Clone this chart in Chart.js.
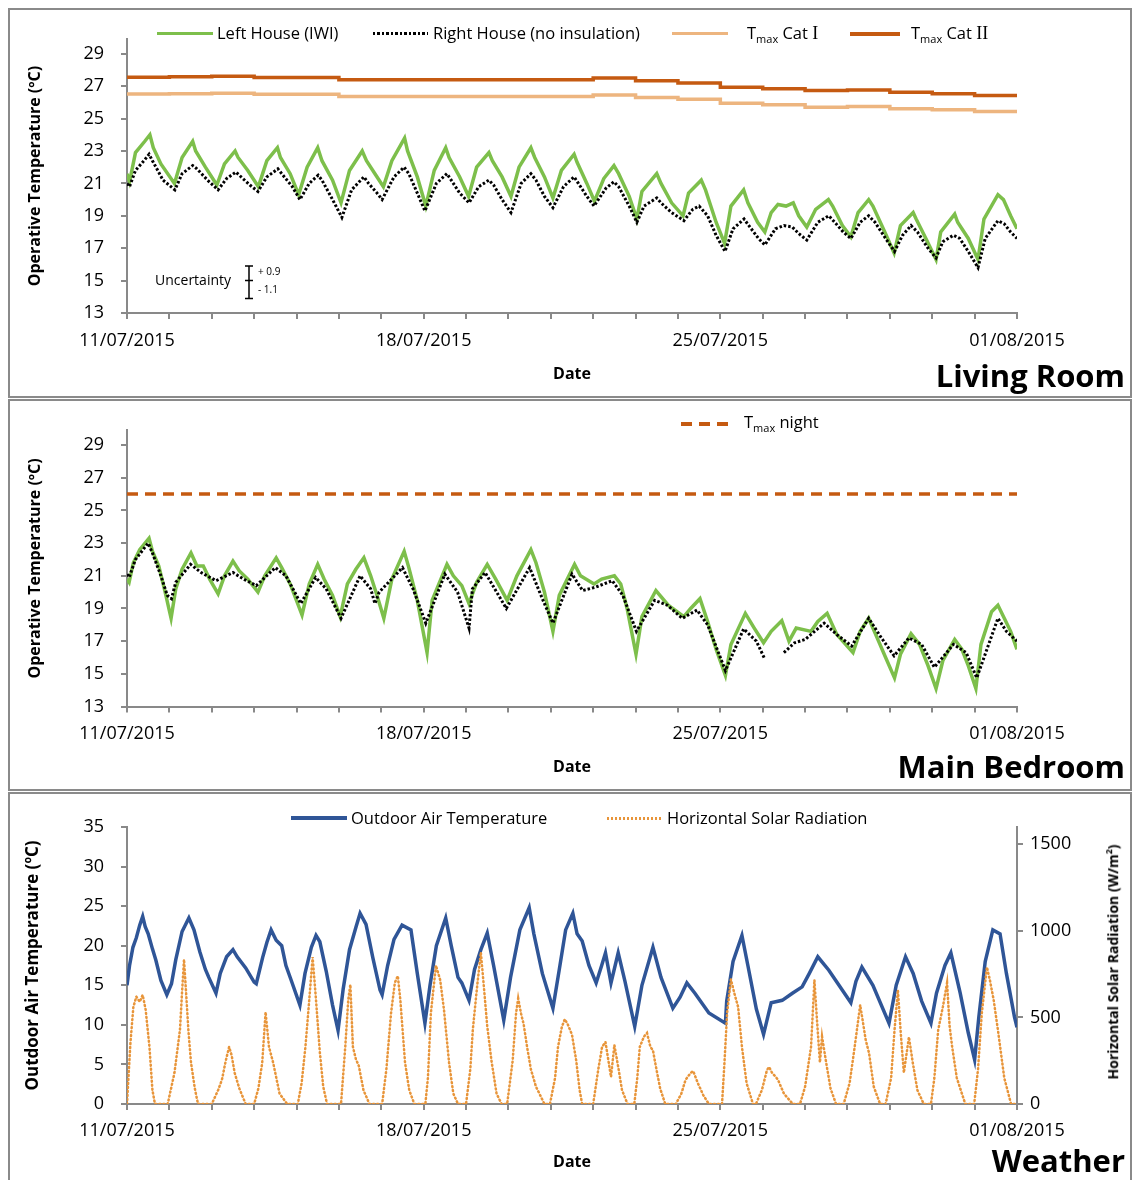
<!DOCTYPE html>
<html>
<head>
<meta charset="utf-8">
<script src="https://cdn.jsdelivr.net/npm/chart.js@4.4.1/dist/chart.umd.min.js"></script>
<style>
  body { margin: 0; background: #fff; width: 1132px; height: 1180px; overflow: hidden; position: relative; font-family: 'Open Sans', sans-serif; color: #000; }
  .panel { position: absolute; left: 8px; width: 1120px; border: 2px solid #8a8a8a; overflow: hidden; }
  .panel canvas { position: absolute; left: 0; top: 0; }
  .lg { position: absolute; font-size: 16.5px; line-height: 20px; height: 20px; white-space: nowrap; }
  .lg sub { font-size: 11px; vertical-align: -4px; }
  .rn { font-family: 'Liberation Serif', serif; font-size: 18px; }
  .sw { position: absolute; }
  .big { position: absolute; right: 7px; font-weight: bold; font-size: 31px; line-height: 40px; }
  .rt { position: absolute; font-weight: bold; font-size: 14px; white-space: nowrap; transform: translate(-50%, -50%) rotate(-90deg); }
</style>
</head>
<body>
<div class="panel" style="top:8px;height:386px"><canvas id="living" width="1120" height="386"></canvas></div>
<div class="panel" style="top:399px;height:388px"><canvas id="bedroom" width="1120" height="388"></canvas></div>
<div class="panel" style="top:792px;height:400px"><canvas id="weather" width="1120" height="386"></canvas></div>

<!-- legends -->
<div class="sw" style="left:157px;top:32px;width:56px;height:3px;background:#7DBF4B"></div>
<div class="lg" style="left:217px;top:23px">Left House (IWI)</div>
<div class="sw" style="left:373px;top:32px;width:55px;height:3px;background:repeating-linear-gradient(90deg,#000 0 2.5px,transparent 2.5px 4.5px)"></div>
<div class="lg" style="left:433px;top:23px">Right House (no insulation)</div>
<div class="sw" style="left:672px;top:32px;width:56px;height:3px;background:#EDB57F"></div>
<div class="lg" style="left:747px;top:23px">T<sub>max</sub> Cat <span class="rn">I</span></div>
<div class="sw" style="left:850px;top:32px;width:50px;height:3.5px;background:#C55A11"></div>
<div class="lg" style="left:911px;top:23px">T<sub>max</sub> Cat <span class="rn">II</span></div>

<div class="sw" style="left:681px;top:422px;width:47px;height:3.5px;background:repeating-linear-gradient(90deg,#C55A11 0 11px,transparent 11px 18px)"></div>
<div class="lg" style="left:744px;top:412px">T<sub>max</sub> night</div>

<div class="sw" style="left:291px;top:816px;width:56px;height:3.5px;background:#2F5597"></div>
<div class="lg" style="left:351px;top:808px">Outdoor Air Temperature</div>
<div class="sw" style="left:607px;top:817px;width:54px;height:2.5px;background:repeating-linear-gradient(90deg,#E8953A 0 2px,transparent 2px 4px)"></div>
<div class="lg" style="left:667px;top:808px">Horizontal Solar Radiation</div>

<div class="rt" style="left:1112px;top:962px">Horizontal Solar Radiation (W/m<sup style="font-size:9px">2</sup>)</div>

<div class="big" style="top:355px">Living Room</div>
<div class="big" style="top:746px">Main Bedroom</div>
<div class="big" style="top:1140px">Weather</div>

<script>
// x values are days since 11/07/2015 00:00
const xTickDays = [0, 1, 2, 3, 4, 5, 6, 7, 8, 9, 10, 11, 12, 13, 14, 15, 16, 17, 18, 19, 20, 21];
const xLabelDays = [0, 7, 14, 21];
const xLabels = ['11/07/2015', '18/07/2015', '25/07/2015', '01/08/2015'];
const roomTicks = [13, 15, 17, 19, 21, 23, 25, 27, 29];
const airTicks = [0, 5, 10, 15, 20, 25, 30, 35];
const solarTicks = [0, 500, 1000, 1500];

// Living room (ºC)
const livingLeft = [[0,21.6],[0.06,21.1],[0.2,22.9],[0.42,23.6],[0.54,24.0],[0.62,23.2],[0.8,22.2],[1.12,21.0],
  [1.3,22.6],[1.55,23.6],[1.62,23.0],[1.85,22.0],[2.12,20.9],
  [2.3,22.2],[2.55,23.0],[2.62,22.6],[2.85,21.8],[3.1,20.8],
  [3.3,22.4],[3.55,23.2],[3.62,22.6],[3.85,21.6],[4.05,20.3],
  [4.25,22.0],[4.5,23.2],[4.6,22.4],[4.85,21.2],[5.05,19.8],
  [5.25,21.8],[5.55,23.0],[5.65,22.4],[5.85,21.6],[6.05,20.8],
  [6.25,22.4],[6.55,23.8],[6.62,23.0],[6.85,21.4],[7.05,19.6],
  [7.25,21.8],[7.52,23.2],[7.6,22.6],[7.85,21.4],[8.06,20.2],
  [8.25,22.0],[8.54,22.9],[8.62,22.4],[8.85,21.4],[9.06,20.2],
  [9.25,22.0],[9.53,23.2],[9.62,22.6],[9.85,21.4],[10.05,20.1],
  [10.25,21.8],[10.55,22.8],[10.62,22.3],[10.85,21.0],[11.03,19.9],
  [11.25,21.3],[11.49,22.1],[11.6,21.6],[11.85,20.2],[12.03,18.8],
  [12.15,20.5],[12.5,21.6],[12.6,21.0],[12.85,19.8],[13.12,19.0],
  [13.25,20.4],[13.55,21.2],[13.65,20.6],[13.9,18.6],[14.1,17.3],
  [14.25,19.6],[14.55,20.6],[14.65,19.8],[14.88,18.6],[15.05,18.0],
  [15.2,19.2],[15.36,19.7],[15.55,19.6],[15.72,19.8],[15.85,19.0],[16.04,18.3],
  [16.25,19.4],[16.55,20.0],[16.65,19.6],[16.88,18.4],[17.08,17.7],
  [17.25,19.2],[17.5,20.0],[17.6,19.6],[17.88,18.0],[18.1,16.7],
  [18.25,18.4],[18.55,19.2],[18.62,18.8],[18.85,17.6],[19.09,16.3],
  [19.2,18.0],[19.53,19.1],[19.6,18.6],[19.85,17.6],[20.08,16.3],
  [20.22,18.8],[20.55,20.3],[20.68,20.0],[20.85,19.0],[21,18.2]];
const livingRight = [[0,21.0],[0.06,20.8],[0.2,21.8],[0.4,22.4],[0.52,22.8],[0.6,22.4],[0.85,21.2],[1.13,20.6],
  [1.3,21.6],[1.55,22.1],[1.65,21.9],[1.9,21.2],[2.15,20.6],
  [2.35,21.3],[2.57,21.7],[2.65,21.5],[2.9,20.9],[3.09,20.5],
  [3.3,21.4],[3.56,21.9],[3.65,21.6],[3.9,20.8],[4.08,20.0],
  [4.3,21.0],[4.51,21.5],[4.6,21.2],[4.85,20.0],[5.07,18.9],
  [5.3,20.6],[5.59,21.4],[5.7,21.0],[5.9,20.4],[6.02,20.0],
  [6.3,21.4],[6.54,22.0],[6.65,21.6],[6.85,20.4],[7.03,19.3],
  [7.3,21.0],[7.55,21.6],[7.65,21.2],[7.85,20.4],[8.07,19.8],
  [8.3,20.8],[8.54,21.2],[8.65,20.9],[8.85,20.0],[9.06,19.2],
  [9.3,21.0],[9.53,21.6],[9.65,21.2],[9.85,20.2],[10.05,19.5],
  [10.3,20.8],[10.55,21.4],[10.65,21.0],[10.85,20.2],[11.02,19.6],
  [11.3,20.7],[11.49,21.1],[11.6,20.8],[11.85,19.6],[12.03,18.6],
  [12.2,19.6],[12.5,20.1],[12.6,19.8],[12.85,19.2],[13.14,18.7],
  [13.35,19.4],[13.5,19.6],[13.7,19.0],[13.9,17.8],[14.11,16.8],
  [14.3,18.2],[14.56,18.8],[14.7,18.3],[14.9,17.6],[15.05,17.2],
  [15.3,18.2],[15.5,18.4],[15.7,18.3],[15.85,17.9],[16.04,17.5],
  [16.3,18.6],[16.56,19.0],[16.7,18.6],[16.9,18.0],[17.08,17.6],
  [17.3,18.6],[17.5,19.0],[17.65,18.6],[17.9,17.6],[18.11,16.8],
  [18.3,17.8],[18.5,18.4],[18.65,18.0],[18.9,17.0],[19.09,16.4],
  [19.25,17.4],[19.5,17.8],[19.65,17.6],[19.85,16.8],[20.08,15.8],
  [20.25,17.6],[20.55,18.7],[20.7,18.5],[20.85,18.0],[21,17.6]];
const tmaxCatI = [[0,26.51],[1,26.54],[2,26.57],[3,26.5],[4,26.5],[5,26.36],[6,26.36],[7,26.36],[8,26.36],[9,26.36],[10,26.36],
  [11,26.46],[12,26.3],[13,26.2],[14,25.95],[15,25.85],[16,25.7],[17,25.74],[18,25.6],[19,25.54],[20,25.43],[21,25.43]];
const tmaxCatII = [[0,27.55],[1,27.58],[2,27.62],[3,27.53],[4,27.53],[5,27.39],[6,27.39],[7,27.39],[8,27.39],[9,27.39],[10,27.39],
  [11,27.51],[12,27.33],[13,27.19],[14,26.94],[15,26.84],[16,26.73],[17,26.77],[18,26.63],[19,26.53],[20,26.42],[21,26.42]];

// Main bedroom (ºC)
const bedroomLeft = [[0,20.8],[0.05,20.6],[0.15,21.8],[0.3,22.6],[0.52,23.3],[0.6,22.5],[0.75,21.6],[0.9,20.0],[1.04,18.4],
  [1.15,20.2],[1.3,21.4],[1.51,22.4],[1.65,21.6],[1.8,21.6],[1.95,20.8],[2.15,19.9],
  [2.3,21.0],[2.5,21.9],[2.65,21.3],[2.85,20.8],[3.09,20.0],
  [3.25,21.0],[3.52,22.1],[3.65,21.5],[3.85,20.5],[4.13,18.6],
  [4.3,20.5],[4.5,21.7],[4.65,20.8],[4.85,19.8],[5.03,18.5],
  [5.2,20.5],[5.4,21.4],[5.59,22.1],[5.75,21.0],[5.9,19.8],[6.06,18.4],
  [6.25,20.8],[6.54,22.5],[6.65,21.5],[6.85,19.5],[7.08,16.3],
  [7.2,19.5],[7.55,21.7],[7.7,21.0],[7.9,20.4],[8.07,19.3],
  [8.25,20.6],[8.5,21.7],[8.7,20.8],[8.97,19.5],
  [9.2,21.0],[9.53,22.6],[9.65,21.8],[9.85,20.0],[10.05,17.6],
  [10.2,19.8],[10.56,21.7],[10.7,21.0],[11.02,20.5],
  [11.2,20.8],[11.5,21.0],[11.65,20.5],[11.8,19.0],[12.01,16.2],
  [12.15,18.5],[12.48,20.1],[12.77,19.2],[13.14,18.5],
  [13.3,19.0],[13.52,19.6],[13.7,18.2],[13.9,16.5],[14.12,14.9],
  [14.25,16.8],[14.59,18.7],[14.8,17.8],[15.02,16.9],
  [15.2,17.6],[15.45,18.25],[15.62,17.0],[15.79,17.8],[16.14,17.6],
  [16.3,18.2],[16.52,18.7],[16.75,17.4],[17.13,16.3],
  [17.3,17.6],[17.5,18.4],[17.7,17.2],[17.9,16.0],[18.11,14.75],
  [18.25,16.2],[18.5,17.45],[18.7,16.8],[18.9,15.5],[19.09,14.1],
  [19.25,15.8],[19.53,17.1],[19.7,16.5],[19.85,15.5],[20.03,14.1],
  [20.15,16.8],[20.4,18.8],[20.55,19.2],[20.7,18.4],[20.85,17.6],[21,16.5]];
const bedroomRight = [[0,21.1],[0.05,20.9],[0.2,22.0],[0.5,23.0],[0.6,22.4],[0.8,21.0],[0.95,19.8],[1.05,19.6],
  [1.15,20.6],[1.5,21.7],[1.75,21.2],[2.1,20.7],[2.5,21.2],[2.75,20.8],[3.05,20.4],[3.5,21.5],[3.75,21.0],
  [4.1,19.3],[4.45,20.9],[4.7,20.2],[5.05,18.4],[5.5,21.0],[5.75,20.2],[5.85,19.3],[5.95,20.0],
  [6.5,21.5],[6.75,20.2],[7.05,18.1],[7.5,21.1],[7.8,20.0],[8.07,17.8],[8.15,20.2],[8.45,21.2],
  [8.95,19.0],[9.5,21.5],[9.8,19.6],[10.05,18.1],[10.5,21.1],[10.75,20.1],[11.05,20.3],[11.45,20.7],
  [11.7,19.8],[12.02,17.6],[12.45,19.5],[12.75,19.2],[13.1,18.4],[13.45,18.9],[13.7,18.0],[14.12,15.2],
  [14.55,17.75],[14.85,17.0],[15.05,15.9],[15.25,null],[15.5,16.3],[15.75,16.9],[16.0,17.1],[16.45,18.1],
  [16.75,17.4],[17.1,16.7],[17.5,18.4],[17.8,17.2],[18.1,16.1],[18.45,17.2],[18.75,16.8],[19.05,15.4],
  [19.5,16.8],[19.8,16.3],[20.05,14.75],[20.55,18.4],[20.75,17.6],[21,17.0]];
const tmaxNight = [[0,26],[21,26]];

// Weather
const outdoorAir = [[0,15.0],[0.06,17.5],[0.14,19.8],[0.22,21.0],[0.3,22.6],[0.37,23.7],[0.43,22.4],[0.5,21.5],[0.6,19.6],[0.68,18.2],[0.8,15.6],[0.94,13.8],
  [1.05,15.2],[1.15,18.2],[1.3,21.8],[1.46,23.5],[1.58,22.0],[1.72,19.2],[1.85,17.0],[1.93,16.0],[2.1,14.0],
  [2.2,16.5],[2.35,18.6],[2.5,19.5],[2.6,18.6],[2.8,17.2],[3.0,15.4],[3.05,15.2],
  [3.2,18.5],[3.3,20.4],[3.4,22.0],[3.52,20.7],[3.65,20.0],[3.75,17.5],[3.87,15.7],[4.08,12.5],
  [4.2,16.5],[4.35,19.8],[4.46,21.3],[4.55,20.5],[4.7,16.8],[4.85,12.5],[4.98,9.3],
  [5.1,14.5],[5.25,19.5],[5.4,22.3],[5.5,24.1],[5.64,22.7],[5.8,18.5],[5.97,14.4],[6.02,13.8],
  [6.15,17.5],[6.3,20.8],[6.49,22.6],[6.7,22.0],[6.85,16.5],[7.03,10.2],
  [7.15,15.0],[7.3,20.0],[7.52,23.5],[7.65,20.0],[7.81,16.0],[7.9,15.3],[8.07,13.1],
  [8.2,17.0],[8.35,19.5],[8.5,21.6],[8.65,17.5],[8.89,10.6],
  [9.05,16.0],[9.27,22.0],[9.49,24.8],[9.6,21.5],[9.8,16.5],[10.05,12.1],
  [10.2,17.0],[10.35,22.0],[10.52,24.1],[10.62,21.5],[10.74,20.6],[10.9,17.5],[11.07,15.3],
  [11.2,17.5],[11.29,19.1],[11.42,15.3],[11.59,19.1],[11.75,15.5],[11.98,9.8],
  [12.15,15.0],[12.41,19.8],[12.6,16.0],[12.88,12.1],[13.05,13.5],[13.21,15.3],[13.4,14.0],[13.73,11.5],[14.12,10.2],
  [14.15,13.0],[14.3,18.0],[14.51,21.3],[14.65,17.5],[14.85,12.0],[15.02,8.8],
  [15.2,12.8],[15.46,13.1],[15.7,14.0],[15.93,14.8],[16.1,16.5],[16.3,18.6],[16.56,16.9],[16.8,15.0],[17.08,12.8],
  [17.2,15.5],[17.34,17.3],[17.6,15.0],[17.98,10.2],
  [18.15,15.0],[18.37,18.6],[18.55,16.5],[18.75,13.0],[18.97,10.2],
  [19.1,14.0],[19.3,17.5],[19.44,19.1],[19.66,14.0],[19.85,9.0],[20.0,5.6],
  [20.1,11.0],[20.25,18.0],[20.43,22.0],[20.6,21.5],[20.75,16.5],[20.94,11.0],[21,9.7]];
const solarRadiation = [[0,0],[0.08,350],[0.15,560],[0.22,620],[0.3,590],[0.37,630],[0.44,545],[0.53,330],[0.6,80],[0.66,0],
  [0.96,0],[1.12,180],[1.25,430],[1.3,650],[1.345,835],[1.4,620],[1.45,420],[1.51,240],[1.6,90],[1.675,0],
  [2.0,0],[2.15,80],[2.24,140],[2.33,250],[2.41,330],[2.47,280],[2.54,180],[2.65,90],[2.8,0],
  [3.0,0],[3.1,90],[3.19,237],[3.27,531],[3.35,330],[3.45,237],[3.6,60],[3.78,0],
  [4.03,0],[4.12,120],[4.21,330],[4.3,600],[4.38,849],[4.46,600],[4.55,300],[4.63,100],[4.72,0],
  [5.05,0],[5.15,330],[5.22,600],[5.27,690],[5.33,330],[5.4,260],[5.47,220],[5.58,80],[5.72,0],
  [6.02,0],[6.12,200],[6.23,525],[6.32,700],[6.39,740],[6.45,600],[6.56,240],[6.66,80],[6.78,0],
  [7.04,0],[7.1,150],[7.17,525],[7.29,800],[7.39,716],[7.48,543],[7.6,237],[7.7,60],[7.81,0],
  [8.0,0],[8.1,200],[8.16,430],[8.27,700],[8.35,875],[8.43,650],[8.5,450],[8.6,250],[8.72,60],[8.84,0],
  [8.97,0],[9.1,250],[9.18,525],[9.23,610],[9.3,520],[9.36,460],[9.44,330],[9.53,200],[9.65,100],[9.85,0],
  [9.98,0],[10.1,150],[10.17,330],[10.26,445],[10.33,490],[10.4,460],[10.5,400],[10.6,250],[10.68,80],[10.74,0],
  [11.0,0],[11.12,200],[11.21,330],[11.29,358],[11.42,156],[11.5,341],[11.6,200],[11.68,80],[11.81,0],
  [11.97,0],[12.04,150],[12.1,330],[12.2,390],[12.27,410],[12.35,330],[12.41,310],[12.48,216],[12.58,90],[12.7,0],
  [12.95,0],[13.08,60],[13.18,140],[13.3,180],[13.36,190],[13.47,120],[13.6,50],[13.73,0],
  [14.04,0],[14.1,250],[14.16,525],[14.25,720],[14.33,640],[14.42,560],[14.51,330],[14.62,120],[14.77,0],
  [14.84,0],[14.98,80],[15.1,196],[15.15,214],[15.22,180],[15.31,156],[15.36,140],[15.5,60],[15.71,0],
  [15.88,0],[16.0,100],[16.14,330],[16.22,716],[16.29,450],[16.35,240],[16.4,390],[16.49,250],[16.6,90],[16.73,0],
  [16.91,0],[17.05,120],[17.17,330],[17.3,572],[17.36,480],[17.43,370],[17.51,293],[17.62,100],[17.77,0],
  [17.9,0],[18.03,150],[18.11,427],[18.19,658],[18.26,400],[18.33,180],[18.45,387],[18.54,240],[18.65,80],[18.8,0],
  [18.97,0],[19.05,150],[19.14,427],[19.25,560],[19.35,700],[19.41,450],[19.47,330],[19.58,150],[19.78,0],
  [19.99,0],[20.08,200],[20.17,525],[20.29,790],[20.36,716],[20.45,600],[20.55,427],[20.7,150],[20.86,0],[21,0]];

// uncertainty bar drawn in the living room panel
const uncDay = 2.88, uncCentre = 15, uncPlus = 0.9, uncMinus = 1.1;

const GREEN = '#7DBF4B', CAT1 = '#EDB57F', CAT2 = '#C55A11', BLUE = '#2F5597', SOLAR = '#E8953A';
const AXIS_GREY = '#898989';

Chart.defaults.font.family = "'Open Sans', sans-serif";
Chart.defaults.color = '#000';

const pts = arr => arr.map(([x, y]) => ({ x, y }));

function line(data, color, width, dash, extra) {
  return Object.assign({
    data: pts(data), showLine: true, borderColor: color, backgroundColor: color,
    borderWidth: width, borderDash: dash || [], pointRadius: 0, tension: 0, spanGaps: false
  }, extra || {});
}

function dateAxis(height, labelPad, titlePad) {
  return {
    type: 'linear', position: 'bottom', min: 0, max: 21,
    afterBuildTicks: s => { s.ticks = xTickDays.map(v => ({ value: v })); },
    afterFit: s => { s.height = height; },
    ticks: {
      autoSkip: false, maxRotation: 0, padding: labelPad, font: { size: 18 },
      callback: v => { const i = xLabelDays.indexOf(v); return i < 0 ? '' : xLabels[i]; }
    },
    grid: { drawOnChartArea: false, tickLength: 6, color: AXIS_GREY, lineWidth: 2 },
    border: { color: AXIS_GREY, width: 2 },
    title: { display: true, text: 'Date', font: { size: 16, weight: 'bold' }, padding: { top: 0, bottom: titlePad } }
  };
}

function valueAxis(o) {
  return {
    type: 'linear', position: o.position || 'left', min: o.min, max: o.max,
    afterBuildTicks: s => { s.ticks = o.ticks.map(v => ({ value: v })); },
    afterFit: s => { s.width = o.width; },
    ticks: { padding: o.labelPad, font: { size: 18 }, callback: v => String(v) },
    grid: { drawOnChartArea: false, tickLength: 6, color: AXIS_GREY, lineWidth: 2 },
    border: { color: AXIS_GREY, width: 2 },
    title: o.title
      ? { display: true, text: o.title, font: { size: o.titleSize, weight: 'bold' }, padding: { top: o.titlePad, bottom: 0 } }
      : { display: false }
  };
}

function options(padTop, padRight, scales) {
  return {
    responsive: false, animation: false, events: [],
    layout: { padding: { top: padTop, right: padRight, left: 0, bottom: 0 } },
    plugins: { legend: { display: false }, tooltip: { enabled: false } },
    scales
  };
}

const uncertaintyMark = {
  id: 'uncertaintyMark',
  afterDatasetsDraw(chart) {
    const { ctx, scales: { x, y } } = chart;
    const px = Math.round(x.getPixelForValue(uncDay));
    const yMid = y.getPixelForValue(uncCentre);
    const yTop = y.getPixelForValue(uncCentre + uncPlus);
    const yBot = y.getPixelForValue(uncCentre - uncMinus);
    ctx.save();
    ctx.strokeStyle = '#000';
    ctx.lineWidth = 1.5;
    ctx.beginPath();
    ctx.moveTo(px, yTop); ctx.lineTo(px, yBot);
    ctx.moveTo(px - 4, yTop); ctx.lineTo(px + 4, yTop);
    ctx.moveTo(px - 4, yMid); ctx.lineTo(px + 4, yMid);
    ctx.moveTo(px - 4, yBot); ctx.lineTo(px + 4, yBot);
    ctx.stroke();
    ctx.fillStyle = '#000';
    ctx.textBaseline = 'middle';
    ctx.font = "14px 'Open Sans'";
    ctx.textAlign = 'right';
    ctx.fillText('Uncertainty', px - 18, yMid);
    ctx.font = "10px 'Open Sans'";
    ctx.textAlign = 'left';
    ctx.fillText('+ 0.9', px + 9, yTop + 6);
    ctx.fillText('- 1.1', px + 9, yBot - 8);
    ctx.restore();
  }
};

// Living room
new Chart(document.getElementById('living'), {
  type: 'scatter',
  data: { datasets: [
    line(livingRight, '#000', 3, [2.5, 2]),
    line(livingLeft, GREEN, 3.5),
    line(tmaxCatI, CAT1, 3.5, null, { stepped: true }),
    line(tmaxCatII, CAT2, 3.5, null, { stepped: true })
  ] },
  options: options(29.2, 113, {
    x: dateAxis(83, 11, 12),
    y: valueAxis({ min: 13, max: 29.9, ticks: roomTicks, width: 117, labelPad: 17,
      title: 'Operative Temperature (ºC)', titleSize: 16, titlePad: 16 })
  }),
  plugins: [uncertaintyMark]
});

// Main bedroom
new Chart(document.getElementById('bedroom'), {
  type: 'scatter',
  data: { datasets: [
    line(bedroomRight, '#000', 3, [2.5, 2]),
    line(bedroomLeft, GREEN, 3.5),
    line(tmaxNight, CAT2, 3.5, [11, 7])
  ] },
  options: options(29.4, 113, {
    x: dateAxis(82.5, 11, 12),
    y: valueAxis({ min: 13, max: 29.9, ticks: roomTicks, width: 117, labelPad: 17,
      title: 'Operative Temperature (ºC)', titleSize: 16, titlePad: 16 })
  })
});

// Weather
new Chart(document.getElementById('weather'), {
  type: 'scatter',
  data: { datasets: [
    line(solarRadiation, SOLAR, 2.5, [1, 3], { yAxisID: 'yR', borderCapStyle: 'round' }),
    line(outdoorAir, BLUE, 3.5, null, { yAxisID: 'y' })
  ] },
  options: options(33, 0, {
    x: dateAxis(76, 10, 8),
    y: valueAxis({ min: 0, max: 35, ticks: airTicks, width: 117, labelPad: 17,
      title: 'Outdoor Air Temperature (ºC)', titleSize: 17, titlePad: 13 }),
    yR: valueAxis({ position: 'right', min: 0, max: 1600, ticks: solarTicks, width: 113, labelPad: 7 })
  })
});
</script>
</body>
</html>
